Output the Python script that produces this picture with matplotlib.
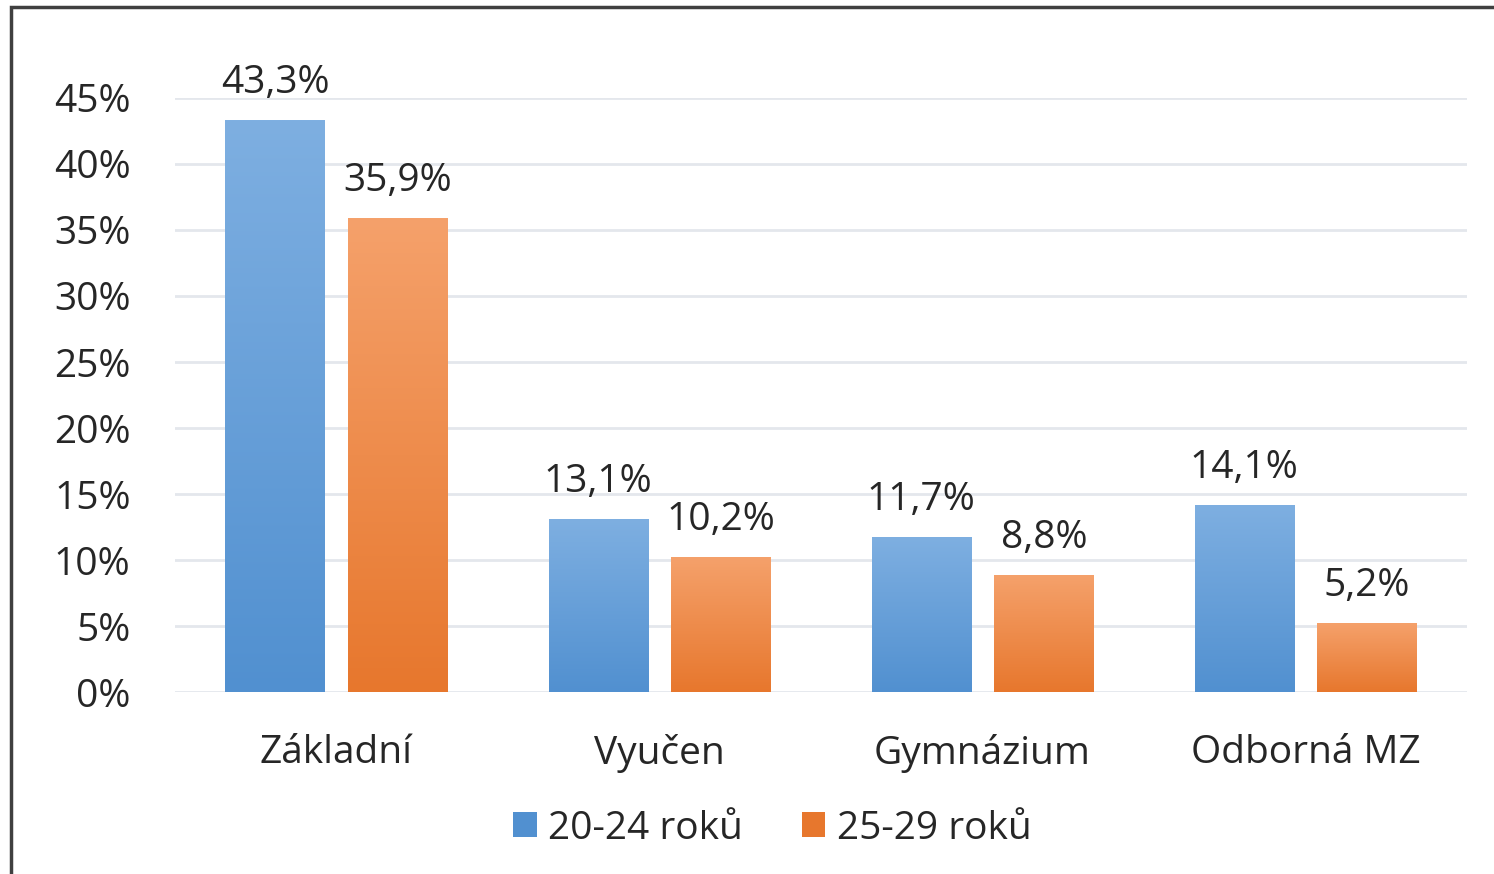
import matplotlib
matplotlib.use('Agg')
from matplotlib import pyplot as plt
from matplotlib.colors import LinearSegmentedColormap
from matplotlib.patches import Rectangle, Patch
import numpy as np

plt.rcParams['font.family'] = ['Open Sans', 'DejaVu Sans']

categories = ['Základní', 'Vyučen', 'Gymnázium', 'Odborná MZ']
series_names = ['20-24 roků', '25-29 roků']
values_2024 = [43.3, 13.1, 11.7, 14.1]
values_2529 = [35.9, 10.2, 8.8, 5.2]
yticks = [0, 5, 10, 15, 20, 25, 30, 35, 40, 45]

# gradient colours (top, bottom)
blue_grad = ('#7EAFE1', '#5190D0')
orange_grad = ('#F5A16B', '#E7772D')

fig = plt.figure(figsize=(14.94, 8.74), dpi=100)
ax = fig.add_axes([0.1171, 0.2082, 0.8648, 0.6797])

x = np.arange(len(categories))
w = 0.307
off = 0.19
fs = 28
tc = '#262626'

bars1 = ax.bar(x - off, values_2024, w, color='none', zorder=3)
bars2 = ax.bar(x + off, values_2529, w, color='none', zorder=3)

grad = np.linspace(1, 0, 256).reshape(-1, 1)
for bars, cols in ((bars1, blue_grad), (bars2, orange_grad)):
    cmap = LinearSegmentedColormap.from_list('g', [cols[1], cols[0]])
    for b in bars:
        x0, y0 = b.get_x(), b.get_y()
        ax.imshow(grad, cmap=cmap, extent=(x0, x0 + b.get_width(), y0, y0 + b.get_height()),
                  aspect='auto', zorder=3, vmin=0, vmax=1)
        ax.text(x0 + b.get_width() / 2, b.get_height() + 1.4,
                ('%.1f%%' % b.get_height()).replace('.', ','),
                ha='center', va='bottom', fontsize=fs, color=tc, zorder=4)

ax.set_xlim(-0.5, len(categories) - 0.5)
ax.set_ylim(0, 45)
ax.set_yticks(yticks)
ax.set_yticklabels(['%d%%' % t for t in yticks], fontsize=fs, color=tc)
ax.set_xticks(x)
ax.set_xticklabels(categories, fontsize=fs, color=tc)
ax.tick_params(length=0)
ax.tick_params(axis='y', pad=32)
ax.tick_params(axis='x', pad=30)
ax.grid(axis='y', color='#E4E7EC', linewidth=2, zorder=0)
for s in ax.spines.values():
    s.set_visible(False)

handles = [Patch(facecolor=blue_grad[1]), Patch(facecolor=orange_grad[1])]
fig.legend(handles, series_names, loc='center', bbox_to_anchor=(0.517, 0.052),
           ncol=2, frameon=False, fontsize=fs, handlelength=0.6, handleheight=0.6,
           handletextpad=0.3, columnspacing=1.5, labelcolor=tc)

# outer frame (top and left edges visible)
fig.patches.append(Rectangle((11 / 1494, -0.1), 1.2, 1.1 - 7 / 874,
                             transform=fig.transFigure, fill=False,
                             edgecolor='#404040', linewidth=2.5))

fig.savefig('out.png', dpi=100, facecolor='white')
